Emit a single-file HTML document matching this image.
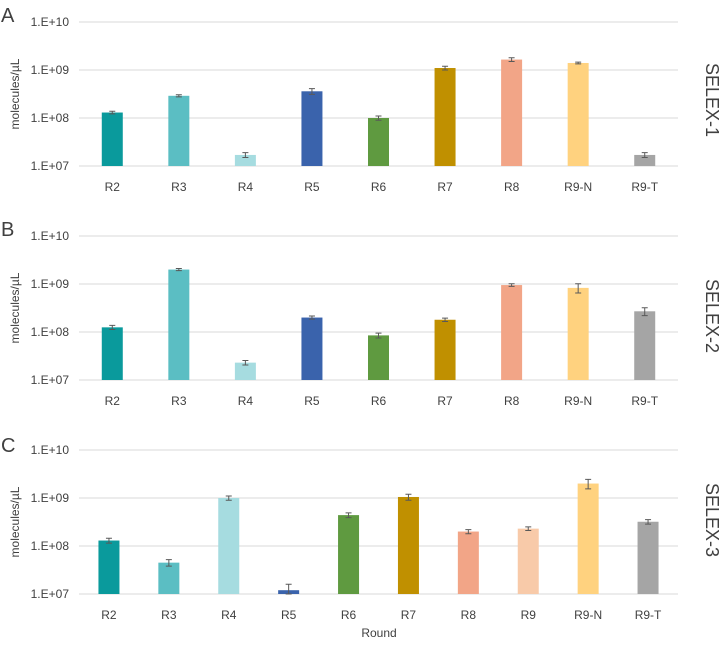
<!DOCTYPE html>
<html><head><meta charset="utf-8"><style>
body{margin:0;background:#fff;}
svg text{font-family:"Liberation Sans",sans-serif;fill:#404040;}
</style></head><body>
<svg id="chart" width="721" height="641" xmlns="http://www.w3.org/2000/svg"></svg>
<script>
const catsA = ["R2","R3","R4","R5","R6","R7","R8","R9-N","R9-T"];
const valsA = [1.3e8,2.9e8,1.7e7,3.6e8,1.0e8,1.1e9,1.65e9,1.4e9,1.7e7];
const errsA = [0.08e8,0.15e8,0.2e7,0.5e8,0.1e8,0.1e9,0.15e9,0.06e9,0.2e7];
const catsB = ["R2","R3","R4","R5","R6","R7","R8","R9-N","R9-T"];
const valsB = [1.25e8,2.0e9,2.3e7,2.0e8,8.5e7,1.8e8,9.5e8,8.3e8,2.7e8];
const errsB = [0.12e8,0.1e9,0.25e7,0.15e8,0.1e8,0.15e8,0.6e8,1.8e8,0.5e8];
const catsC = ["R2","R3","R4","R5","R6","R7","R8","R9","R9-N","R9-T"];
const valsC = [1.3e8,4.5e7,1.0e9,1.2e7,4.4e8,1.05e9,2.0e8,2.3e8,2.0e9,3.2e8];
const errsC = [0.15e8,0.7e7,0.1e9,0.4e7,0.5e8,0.15e9,0.2e8,0.2e8,0.45e9,0.35e8];
const yTicks = ["1.E+07","1.E+08","1.E+09","1.E+10"];
const colors = {"R2":"#0a9a9c","R3":"#5bbec3","R4":"#a6dce0","R5":"#3a63ac","R6":"#5f9a40","R7":"#c09000","R8":"#f2a587","R9":"#f8caa9","R9-N":"#ffd27f","R9-T":"#a5a5a5"};
const svg = document.getElementById('chart');
const NS = "http://www.w3.org/2000/svg";
function mk(tag, attrs, parent){const e=document.createElementNS(NS,tag);for(const k in attrs)e.setAttribute(k,attrs[k]);(parent||svg).appendChild(e);return e;}
const panels = [
 {id:"a",letter:"A",title:"SELEX-1",cats:catsA,vals:valsA,errs:errsA,base:166,ly:14,ty:100},
 {id:"b",letter:"B",title:"SELEX-2",cats:catsB,vals:valsB,errs:errsB,base:380,ly:228,ty:316},
 {id:"c",letter:"C",title:"SELEX-3",cats:catsC,vals:valsC,errs:errsC,base:594,ly:444,ty:520}
];
const x0=79, x1=678, dec=48;
panels.forEach(p=>{
  const g=mk('g',{});
  
  
  const y=v=>p.base-(Math.log10(v)-7)*dec;
  yTicks.forEach((t,i)=>{
    const yy=p.base-i*dec;
    const l=mk('line',{x1:x0,x2:x1,y1:yy,y2:yy,stroke:"#d9d9d9","stroke-width":1},g);
    
    
    const tx=mk('text',{x:69,y:yy+4,"text-anchor":"end","font-size":12},g);
    tx.textContent=t;
    
    
  });
  const step=(x1-x0)/p.cats.length;
  p.cats.forEach((c,i)=>{
    const cx=x0+step*(i+0.5);
    const top=y(p.vals[i]);
    const r=mk('rect',{x:cx-10.5,y:top,width:21,height:p.base-top,fill:colors[c]},g);
    
    
    const eh=y(p.vals[i]+p.errs[i]), el=y(Math.max(p.vals[i]-p.errs[i],1e7));
    const e=mk('path',{d:`M${cx},${eh}V${el}M${cx-3},${eh}H${cx+3}M${cx-3},${el}H${cx+3}`,stroke:"#595959","stroke-width":1,fill:"none"},g);
    
    
    const t=mk('text',{x:cx,y:p.base+25,"text-anchor":"middle","font-size":12},g);
    t.textContent=c;
    
    
  });
  const lt=mk('text',{x:1,y:p.ly+8,"font-size":20,fill:"#000"},g);
  lt.textContent=p.letter;
  
  
  const yt=mk('text',{x:0,y:0,"text-anchor":"middle","font-size":12,transform:`translate(19,${p.base-72}) rotate(-90)`},g);
  yt.textContent="molecules/µL";
  
  
  const st=mk('text',{x:0,y:0,"text-anchor":"middle","font-size":18,fill:"#000",transform:`translate(706,${p.ty}) rotate(90)`},g);
  st.textContent=p.title;
  
  
});
const rt=mk('text',{x:379,y:637,"text-anchor":"middle","font-size":12});
rt.textContent="Round";


</script>
</body></html>
